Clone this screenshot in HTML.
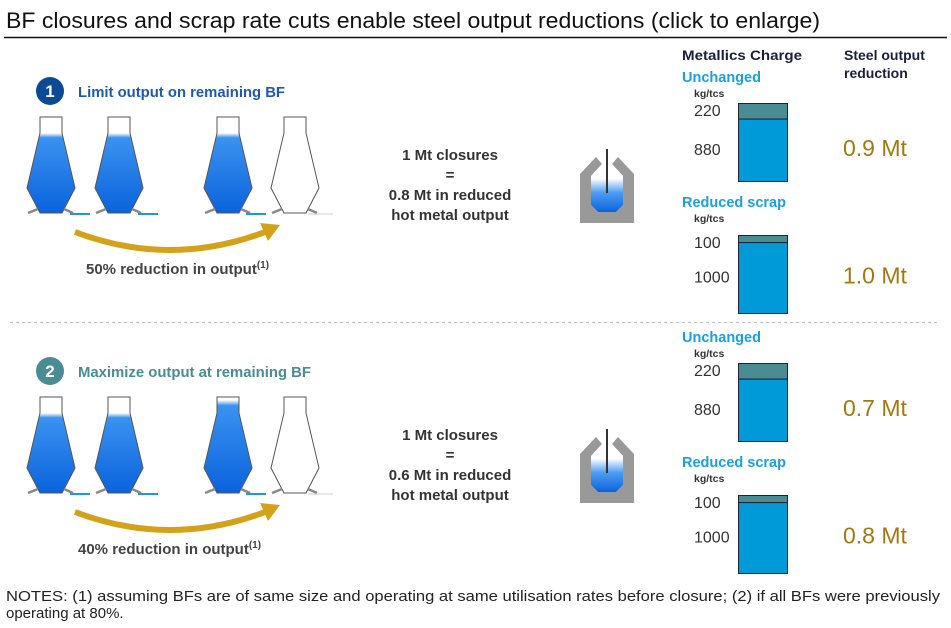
<!DOCTYPE html>
<html><head><meta charset="utf-8">
<style>
html,body{margin:0;padding:0;background:#fff;}
body{width:951px;height:628px;overflow:hidden;font-family:"Liberation Sans",Arial,sans-serif;}
svg{display:block}
</style></head>
<body>
<svg id="s" width="951" height="628" viewBox="0 0 951 628" xmlns="http://www.w3.org/2000/svg">
<defs>
<linearGradient id="fill1" x1="0" y1="0" x2="0" y2="1">
<stop offset="0" stop-color="#ffffff"/><stop offset="0.06" stop-color="#3a92f0"/><stop offset="1" stop-color="#0a63dc"/>
</linearGradient>
<linearGradient id="conv" x1="0" y1="0" x2="0" y2="1">
<stop offset="0" stop-color="#ffffff"/><stop offset="0.3" stop-color="#ffffff"/><stop offset="0.6" stop-color="#4b9cf2"/><stop offset="1" stop-color="#0a63dc"/>
</linearGradient>
</defs>
<text x="6" y="28" font-size="22" fill="#111" textLength="814" lengthAdjust="spacingAndGlyphs">BF closures and scrap rate cuts enable steel output reductions (click to enlarge)</text>
<line x1="4" y1="37.5" x2="947" y2="37.5" stroke="#111" stroke-width="1.5"/>
<line x1="10" y1="322.5" x2="940" y2="322.5" stroke="#bbb" stroke-dasharray="3,3"/>
<text x="682" y="60" font-size="14" font-weight="bold" fill="#1d1d3f" textLength="120" lengthAdjust="spacingAndGlyphs">Metallics Charge</text>
<text x="844" y="60" font-size="14" font-weight="bold" fill="#1d1d3f">Steel output</text>
<text x="844" y="78" font-size="14" font-weight="bold" fill="#1d1d3f">reduction</text>
<text x="6" y="601" font-size="15" fill="#222" textLength="934" lengthAdjust="spacingAndGlyphs">NOTES: (1) assuming BFs are of same size and operating at same utilisation rates before closure; (2) if all BFs were previously</text>
<text x="6" y="618" font-size="15" fill="#222">operating at 80%.</text>
<g id="content"></g>
</svg>
<script>
// Data
const sectionTitles = ["Limit output on remaining BF", "Maximize output at remaining BF"];
const reductionLabels = ["50% reduction in output", "40% reduction in output"];
const hotMetalLines = ["0.8 Mt in reduced", "0.6 Mt in reduced"];
const scenarioNames = ["Unchanged", "Reduced scrap"];
const scrapKg = [220, 100, 220, 100];
const hotMetalKg = [880, 1000, 880, 1000];
const steelOutputMt = [0.9, 1.0, 0.7, 0.8];

const NS = "http://www.w3.org/2000/svg";
const root = document.getElementById('content');
function mk(tag, attrs, parent, text){
  const e = document.createElementNS(NS, tag);
  for (const k in attrs) e.setAttribute(k, attrs[k]);
  if (text !== undefined) e.textContent = text;
  (parent || root).appendChild(e);
  return e;
}
const barScale = 78 / 1100; // px per kg
function yBar(v){ return v * barScale; }

function furnace(g, cx, top, fillTop, filled){
  const pts = [[cx-11,top],[cx+11,top],[cx+11,top+16],[cx+24,top+71],[cx+11,top+96],[cx-11,top+96],[cx-24,top+71],[cx-11,top+16]];
  const d = "M" + pts.map(p=>p.join(",")).join(" L") + " Z";
  if (filled){
    const clipId = "c" + Math.round(cx) + "_" + top;
    const cp = mk('clipPath',{id:clipId},g);
    mk('path',{d:d},cp);
    mk('rect',{x:cx-25,y:top+fillTop,width:50,height:96-fillTop,fill:"url(#fill1)","clip-path":"url(#"+clipId+")"},g);
  }
  mk('path',{d:d,fill:"none",stroke:"#555","stroke-width":1},g);
  mk('line',{x1:cx-23,y1:top+96,x2:cx-13,y2:top+92,stroke:"#888","stroke-width":2.5},g);
  mk('line',{x1:cx+13,y1:top+92,x2:cx+22,y2:top+96,stroke:"#888","stroke-width":2.5},g);
}

for (let s=0; s<2; s++){
  const off = s*280;
  const g = mk('g',{});
  
  
  const col = s===0 ? "#0d4a96" : "#4a8c94";
  const c = mk('circle',{cx:50,cy:91+off,r:14,fill:col},g);
  
  
  mk('text',{x:50,y:97+off,"font-size":17,"font-weight":"bold",fill:"#fff","text-anchor":"middle"},g,String(s+1));
  const t = mk('text',{x:78,y:97+off,"font-size":14.5,"font-weight":"bold",fill:s===0?"#1e5aa8":"#4a8c94",textLength:s===0?207:233,lengthAdjust:"spacingAndGlyphs"},g,sectionTitles[s]);
  
  
  const top = 117 + off;
  const centers = [51,119,228,295];
  centers.forEach((cx,i)=>{
    const fg = mk('g',{},g);
    
    
    let ft = 16;
    if (i===2 && s===1) ft = 3;
    furnace(fg, cx, top, ft, i<3);
  });
  [[70,90],[138,158],[246,266]].forEach(p=>mk('line',{x1:p[0],y1:top+97,x2:p[1],y2:top+97,stroke:"#1a9ae0","stroke-width":2},g));
  mk('line',{x1:308,y1:top+97,x2:333,y2:top+97,stroke:"#ccc","stroke-width":1},g);
  const a = mk('path',{d:`M75 ${232+off} Q170 ${268+off} 265 ${232+off}`,fill:"none",stroke:"#d4a21a","stroke-width":6},g);
  
  
  mk('path',{d:`M280 ${225+off} L260 ${223+off} L268 ${241+off} Z`,fill:"#d4a21a"},g);
  const rl = mk('text',{x:s===0?86:78,y:274+off,"font-size":15,"font-weight":"bold",fill:"#444"},g,reductionLabels[s]);
  
  
  mk('tspan',{"font-size":10,dy:-6},rl,"(1)");
  ["1 Mt closures","=",hotMetalLines[s],"hot metal output"].forEach((ln,i)=>{
    const tt = mk('text',{x:450,y:160+off+i*20,"font-size":15,"font-weight":"bold",fill:"#333","text-anchor":"middle"},g,ln);
    
    
  });
  // converter
  const cg = mk('g',{},g);
  
  
  const cy = off;
  mk('path',{d:`M580 ${174+cy} L596 ${157+cy} L602 ${164+cy} L591 ${176+cy} L591 ${205+cy} L598 ${212+cy} L616 ${212+cy} L623 ${205+cy} L623 ${176+cy} L612 ${164+cy} L618 ${157+cy} L634 ${174+cy} L634 ${223+cy} L580 ${223+cy} Z`,fill:"#999"},cg);
  mk('path',{d:`M591 ${176+cy} L602 ${164+cy} L612 ${164+cy} L623 ${176+cy} L623 ${205+cy} L616 ${212+cy} L598 ${212+cy} L591 ${205+cy} Z`,fill:"url(#conv)"},cg);
  mk('line',{x1:607,y1:149+cy,x2:607,y2:193+cy,stroke:"#333","stroke-width":2},cg);
}

// bars
const barTops = [103,235,363,495];
const labelTops = [76,201,336,461];
for (let i=0;i<4;i++){
  const g = mk('g',{});
  
  
  const lt = mk('text',{x:682,y:labelTops[i]+6,"font-size":14.5,"font-weight":"bold",fill:"#1aa0e0"},g,scenarioNames[i%2]);
  
  
  mk('text',{x:694,y:labelTops[i]+21,"font-size":10.5,"font-weight":"bold",fill:"#333"},g,"kg/tcs");
  const top = barTops[i];
  const hs = yBar(scrapKg[i]), hh = yBar(hotMetalKg[i]);
  const r1 = mk('rect',{x:738.5,y:top+0.5,width:49,height:hs,fill:"#4a8c94",stroke:"#223", "stroke-width":1},g);
  
  
  const r2 = mk('rect',{x:738.5,y:top+0.5+hs,width:49,height:hh,fill:"#009ad9",stroke:"#223","stroke-width":1},g);
  
  
  mk('text',{x:694,y:top+13,"font-size":16,fill:"#333"},g,String(scrapKg[i]));
  mk('text',{x:694,y:top+hs+hh/2+5,"font-size":16,fill:"#333"},g,String(hotMetalKg[i]));
  const ot = mk('text',{x:843,y:top+hs+hh/2+6,"font-size":23,fill:"#a07a10"},g,steelOutputMt[i].toFixed(1)+" Mt");
  
  
}
</script>
</body></html>
